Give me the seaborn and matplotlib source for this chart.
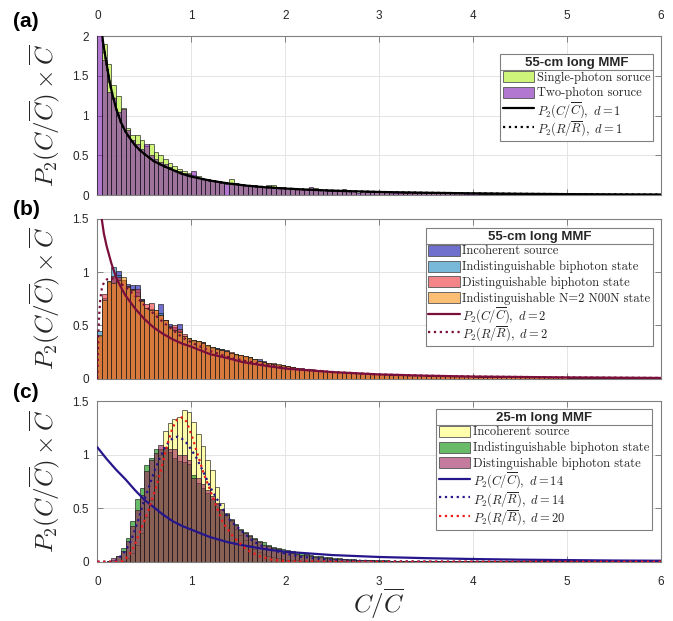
import numpy as np
import matplotlib
matplotlib.use("Agg")
import matplotlib.pyplot as plt
from matplotlib.patches import Patch, Rectangle
from matplotlib.lines import Line2D
from matplotlib.legend_handler import HandlerPatch
import seaborn as sns

sns.set_theme(style="white")
plt.rcParams["font.family"] = ["Liberation Sans", "DejaVu Sans"]
plt.rcParams["mathtext.fontset"] = "cm"

BIN_WIDTH = 0.05
X_MAX = 6.0
X_TICKS = [0, 1, 2, 3, 4, 5, 6]
X_TICK_LABELS = ["0", "1", "2", "3", "4", "5", "6"]

# ---------------- (a) 55-cm long MMF: single- vs two-photon source ----------------
a_single = [
    0.00, 1.90, 1.65, 1.39, 1.25, 1.10, 0.85, 0.76, 0.76, 0.70, 0.62, 0.64, 0.55, 0.50, 0.45, 0.40, 0.37, 0.33, 0.30, 0.28,
    0.25, 0.24, 0.20, 0.19, 0.18, 0.17, 0.16, 0.00, 0.20, 0.15, 0.14, 0.13, 0.12, 0.13, 0.11, 0.11, 0.13, 0.125, 0.09, 0.09,
    0.09, 0.08, 0.08, 0.075, 0.07, 0.08, 0.095, 0.07, 0.065, 0.06, 0.06, 0.06, 0.055, 0.05, 0.05, 0.00, 0.05, 0.045, 0.045, 0.04,
    0.04, 0.04, 0.04, 0.035, 0.035, 0.035, 0.03, 0.035, 0.03, 0.03, 0.03, 0.03, 0.028, 0.028, 0.025, 0.025, 0.025, 0.025, 0.022, 0.022,
    0.020, 0.020, 0.020, 0.020, 0.018, 0.018, 0.018, 0.017, 0.016, 0.016, 0.015, 0.015, 0.014, 0.014, 0.014, 0.013, 0.013, 0.012, 0.012, 0.012,
    0.011, 0.011, 0.011, 0.010, 0.010, 0.010, 0.010, 0.009, 0.009, 0.009, 0.009, 0.008, 0.008, 0.008, 0.008, 0.007, 0.007, 0.007, 0.007, 0.006,
]
a_two = [
    2.20, 1.70, 1.30, 1.22, 1.05, 1.08, 0.82, 0.70, 0.64, 0.58, 0.64, 0.50, 0.45, 0.42, 0.39, 0.36, 0.32, 0.30, 0.28, 0.27,
    0.31, 0.22, 0.21, 0.20, 0.19, 0.18, 0.17, 0.14, 0.15, 0.16, 0.14, 0.13, 0.13, 0.12, 0.12, 0.11, 0.12, 0.10, 0.11, 0.10,
    0.09, 0.085, 0.08, 0.08, 0.075, 0.10, 0.07, 0.07, 0.065, 0.06, 0.06, 0.06, 0.083, 0.055, 0.05, 0.03, 0.05, 0.05, 0.045, 0.055,
    0.045, 0.04, 0.04, 0.045, 0.04, 0.035, 0.04, 0.035, 0.035, 0.03, 0.035, 0.03, 0.03, 0.03, 0.028, 0.03, 0.035, 0.025, 0.025, 0.025,
    0.025, 0.022, 0.022, 0.02, 0.022, 0.02, 0.02, 0.018, 0.02, 0.018, 0.018, 0.016, 0.016, 0.015, 0.016, 0.015, 0.014, 0.014, 0.013, 0.014,
    0.013, 0.012, 0.012, 0.012, 0.011, 0.011, 0.010, 0.011, 0.010, 0.010, 0.010, 0.009, 0.009, 0.009, 0.008, 0.008, 0.008, 0.008, 0.007, 0.007,
]
a_curve_x = [0.045, 0.06, 0.08, 0.10, 0.13, 0.16, 0.20, 0.25, 0.30, 0.35, 0.40, 0.45, 0.50, 0.60, 0.70, 0.80, 0.90, 1.00,
             1.20, 1.40, 1.60, 1.80, 2.00, 2.30, 2.60, 3.00, 3.50, 4.00, 4.50, 5.00, 5.50, 6.00]
a_curve_c = [2.10, 1.93, 1.78, 1.64, 1.43, 1.27, 1.09, 0.92, 0.80, 0.71, 0.63, 0.57, 0.52, 0.43, 0.37, 0.32, 0.27, 0.235,
             0.185, 0.148, 0.12, 0.10, 0.085, 0.068, 0.055, 0.042, 0.032, 0.025, 0.019, 0.015, 0.012, 0.010]
a_curve_r = [2.10, 1.93, 1.78, 1.64, 1.43, 1.27, 1.09, 0.92, 0.80, 0.71, 0.63, 0.57, 0.52, 0.43, 0.37, 0.32, 0.27, 0.235,
             0.185, 0.148, 0.12, 0.10, 0.085, 0.068, 0.055, 0.042, 0.032, 0.025, 0.019, 0.015, 0.012, 0.010]

# ---------------- (b) 55-cm long MMF: four quantum states ----------------
b_incoherent = [
    0.40, 0.72, 0.90, 0.95, 1.01, 0.92, 0.89, 0.88, 0.88, 0.75, 0.66, 0.64, 0.62, 0.70, 0.55, 0.51, 0.48, 0.51, 0.40, 0.38,
    0.36, 0.34, 0.34, 0.31, 0.30, 0.29, 0.28, 0.27, 0.23, 0.23, 0.21, 0.20, 0.20, 0.18, 0.18, 0.17, 0.14, 0.14, 0.13, 0.13,
    0.11, 0.11, 0.10, 0.10, 0.09, 0.09, 0.08, 0.08, 0.075, 0.07, 0.065, 0.065, 0.06, 0.058, 0.055, 0.05, 0.05, 0.047, 0.046, 0.043,
    0.042, 0.041, 0.038, 0.037, 0.036, 0.035, 0.033, 0.032, 0.030, 0.030, 0.029, 0.027, 0.027, 0.026, 0.025, 0.024, 0.024, 0.022, 0.022, 0.021,
    0.020, 0.020, 0.019, 0.018, 0.018, 0.018, 0.017, 0.016, 0.016, 0.016, 0.015, 0.014, 0.014, 0.014, 0.013, 0.013, 0.013, 0.012, 0.012, 0.011,
    0.011, 0.011, 0.010, 0.010, 0.010, 0.010, 0.009, 0.009, 0.009, 0.009, 0.008, 0.008, 0.008, 0.008, 0.008, 0.007, 0.007, 0.007, 0.007, 0.007,
]
b_indist = [
    0.45, 0.76, 0.92, 1.05, 0.97, 0.93, 0.87, 0.84, 0.81, 0.75, 0.66, 0.65, 0.62, 0.62, 0.55, 0.49, 0.46, 0.45, 0.40, 0.38,
    0.36, 0.35, 0.33, 0.32, 0.30, 0.29, 0.28, 0.25, 0.24, 0.23, 0.22, 0.20, 0.20, 0.18, 0.17, 0.16, 0.15, 0.14, 0.13, 0.13,
    0.115, 0.11, 0.10, 0.095, 0.09, 0.085, 0.08, 0.078, 0.074, 0.07, 0.066, 0.063, 0.06, 0.057, 0.055, 0.052, 0.05, 0.048, 0.046, 0.044,
    0.042, 0.040, 0.039, 0.037, 0.036, 0.034, 0.033, 0.032, 0.031, 0.030, 0.029, 0.028, 0.027, 0.026, 0.025, 0.024, 0.023, 0.023, 0.022, 0.021,
    0.020, 0.020, 0.019, 0.019, 0.018, 0.018, 0.017, 0.017, 0.016, 0.016, 0.015, 0.015, 0.014, 0.014, 0.014, 0.013, 0.013, 0.012, 0.012, 0.012,
    0.011, 0.011, 0.011, 0.010, 0.010, 0.010, 0.010, 0.009, 0.009, 0.009, 0.009, 0.008, 0.008, 0.008, 0.008, 0.008, 0.007, 0.007, 0.007, 0.007,
]
b_dist = [
    0.40, 0.79, 0.91, 0.96, 0.95, 0.93, 0.87, 0.84, 0.84, 0.74, 0.70, 0.71, 0.64, 0.60, 0.55, 0.48, 0.50, 0.47, 0.42, 0.37,
    0.35, 0.35, 0.34, 0.31, 0.29, 0.28, 0.27, 0.26, 0.25, 0.22, 0.22, 0.21, 0.19, 0.18, 0.17, 0.16, 0.15, 0.145, 0.13, 0.12,
    0.115, 0.11, 0.10, 0.095, 0.09, 0.085, 0.08, 0.078, 0.074, 0.07, 0.066, 0.063, 0.06, 0.057, 0.055, 0.052, 0.05, 0.048, 0.046, 0.044,
    0.042, 0.040, 0.039, 0.037, 0.036, 0.034, 0.033, 0.032, 0.031, 0.030, 0.029, 0.028, 0.027, 0.026, 0.025, 0.024, 0.023, 0.023, 0.022, 0.021,
    0.020, 0.020, 0.019, 0.019, 0.018, 0.018, 0.017, 0.017, 0.016, 0.016, 0.015, 0.015, 0.014, 0.014, 0.014, 0.013, 0.013, 0.012, 0.012, 0.012,
    0.011, 0.011, 0.011, 0.010, 0.010, 0.010, 0.010, 0.009, 0.009, 0.009, 0.009, 0.008, 0.008, 0.008, 0.008, 0.008, 0.007, 0.007, 0.007, 0.007,
]
b_noon = [
    0.41, 0.74, 0.92, 0.90, 0.93, 0.95, 0.86, 0.83, 0.78, 0.73, 0.66, 0.64, 0.64, 0.60, 0.55, 0.48, 0.46, 0.44, 0.40, 0.38,
    0.36, 0.35, 0.33, 0.32, 0.30, 0.28, 0.27, 0.26, 0.24, 0.23, 0.22, 0.21, 0.20, 0.18, 0.17, 0.16, 0.15, 0.14, 0.135, 0.125,
    0.115, 0.11, 0.10, 0.095, 0.09, 0.085, 0.08, 0.078, 0.074, 0.07, 0.066, 0.063, 0.06, 0.057, 0.055, 0.052, 0.05, 0.048, 0.046, 0.044,
    0.042, 0.040, 0.039, 0.037, 0.036, 0.034, 0.033, 0.032, 0.031, 0.030, 0.029, 0.028, 0.027, 0.026, 0.025, 0.024, 0.023, 0.023, 0.022, 0.021,
    0.020, 0.020, 0.019, 0.019, 0.018, 0.018, 0.017, 0.017, 0.016, 0.016, 0.015, 0.015, 0.014, 0.014, 0.014, 0.013, 0.013, 0.012, 0.012, 0.012,
    0.011, 0.011, 0.011, 0.010, 0.010, 0.010, 0.010, 0.009, 0.009, 0.009, 0.009, 0.008, 0.008, 0.008, 0.008, 0.008, 0.007, 0.007, 0.007, 0.007,
]
b_curve_c_x = [0.045, 0.05, 0.07, 0.10, 0.15, 0.20, 0.25, 0.30, 0.40, 0.50, 0.60, 0.70, 0.80, 0.90, 1.00, 1.20, 1.40, 1.55,
               1.80, 2.00, 2.50, 3.00, 3.50, 4.00, 5.00, 6.00]
b_curve_c = [1.53, 1.48, 1.36, 1.24, 1.08, 0.95, 0.86, 0.78, 0.66, 0.56, 0.48, 0.42, 0.37, 0.33, 0.30, 0.23, 0.19, 0.155,
             0.12, 0.095, 0.062, 0.040, 0.028, 0.020, 0.012, 0.007]
b_curve_r_x = [0.0, 0.005, 0.01, 0.02, 0.03, 0.05, 0.075, 0.10, 0.15, 0.20, 0.30, 0.40, 0.50, 0.60, 0.70, 0.80, 0.90, 1.00,
               1.20, 1.40, 1.55, 1.80, 2.00, 2.50, 3.00, 3.50, 4.00, 5.00, 6.00]
b_curve_r = [0.0, 0.20, 0.40, 0.60, 0.73, 0.86, 0.91, 0.93, 0.945, 0.92, 0.86, 0.78, 0.69, 0.61, 0.53, 0.46, 0.39, 0.34,
             0.26, 0.20, 0.17, 0.13, 0.10, 0.063, 0.040, 0.028, 0.020, 0.012, 0.007]

# ---------------- (c) 25-m long MMF ----------------
c_incoherent = [
    0.0, 0.0, 0.0, 0.0, 0.0, 0.01, 0.03, 0.08, 0.16, 0.27, 0.42, 0.58, 0.80, 1.00, 1.22, 1.30, 1.33, 1.35, 1.42, 1.40,
    1.31, 1.19, 1.08, 0.95, 0.86, 0.70, 0.55, 0.46, 0.38, 0.31, 0.25, 0.20, 0.16, 0.12, 0.09, 0.07, 0.055, 0.04, 0.03, 0.025,
    0.02, 0.015, 0.012, 0.010, 0.008, 0.006, 0.005, 0.004, 0.003, 0.003, 0.002, 0.002, 0.002, 0.001, 0.001, 0.001, 0.001, 0.001, 0.0, 0.0,
] + [0.0] * 60
c_indist = [
    0.0, 0.0, 0.005, 0.02, 0.05, 0.13, 0.22, 0.38, 0.59, 0.69, 0.90, 0.97, 1.05, 1.05, 1.07, 1.03, 0.97, 0.94, 0.93, 0.91,
    0.81, 0.74, 0.69, 0.64, 0.59, 0.54, 0.48, 0.45, 0.40, 0.35, 0.31, 0.28, 0.25, 0.22, 0.19, 0.18, 0.16, 0.14, 0.13, 0.12,
    0.11, 0.10, 0.09, 0.08, 0.07, 0.06, 0.055, 0.05, 0.045, 0.04, 0.035, 0.03, 0.028, 0.025, 0.022, 0.02, 0.018, 0.016, 0.015, 0.014,
    0.013, 0.012, 0.011, 0.010, 0.010, 0.009, 0.009, 0.008, 0.008, 0.007, 0.007, 0.007, 0.006, 0.006, 0.006, 0.005, 0.005, 0.005, 0.005, 0.004,
    0.004, 0.004, 0.004, 0.004, 0.004, 0.004, 0.003, 0.003, 0.003, 0.003, 0.003, 0.003, 0.003, 0.003, 0.003, 0.003, 0.003, 0.003, 0.003, 0.003,
    0.003, 0.003, 0.002, 0.002, 0.002, 0.002, 0.002, 0.002, 0.002, 0.002, 0.002, 0.002, 0.002, 0.002, 0.002, 0.002, 0.002, 0.002, 0.002, 0.002,
]
c_dist = [
    0.0, 0.0, 0.01, 0.03, 0.056, 0.10, 0.19, 0.33, 0.48, 0.62, 0.85, 0.95, 1.02, 1.09, 1.06, 1.05, 1.05, 1.00, 1.00, 0.95,
    0.78, 0.78, 0.73, 0.67, 0.61, 0.55, 0.49, 0.44, 0.39, 0.34, 0.30, 0.27, 0.24, 0.21, 0.18, 0.16, 0.145, 0.13, 0.115, 0.10,
    0.09, 0.08, 0.075, 0.065, 0.06, 0.05, 0.045, 0.04, 0.036, 0.032, 0.028, 0.025, 0.022, 0.02, 0.018, 0.016, 0.015, 0.013, 0.012, 0.011,
    0.010, 0.010, 0.009, 0.009, 0.008, 0.008, 0.007, 0.007, 0.007, 0.006, 0.006, 0.006, 0.005, 0.005, 0.005, 0.005, 0.004, 0.004, 0.004, 0.004,
    0.003, 0.003, 0.003, 0.003, 0.003, 0.003, 0.003, 0.003, 0.003, 0.003, 0.003, 0.003, 0.003, 0.003, 0.003, 0.003, 0.003, 0.003, 0.003, 0.003,
    0.002, 0.002, 0.002, 0.002, 0.002, 0.002, 0.002, 0.002, 0.002, 0.002, 0.002, 0.002, 0.002, 0.002, 0.002, 0.002, 0.002, 0.002, 0.002, 0.002,
]
c_curve_c_x = [0.0, 0.1, 0.2, 0.3, 0.4, 0.5, 0.6, 0.7, 0.8, 0.9, 1.0, 1.2, 1.4, 1.6, 1.8, 2.0, 2.5, 3.0, 3.5, 4.0, 4.5, 5.0, 5.5, 6.0]
c_curve_c = [1.07, 0.96, 0.86, 0.77, 0.67, 0.58, 0.51, 0.44, 0.38, 0.335, 0.30, 0.23, 0.18, 0.145, 0.115, 0.093, 0.062, 0.044,
             0.033, 0.025, 0.019, 0.015, 0.011, 0.009]
c_curve_r14_x = [0.0, 0.15, 0.20, 0.28, 0.34, 0.39, 0.44, 0.49, 0.55, 0.60, 0.66, 0.71, 0.76, 0.81, 0.86, 0.90, 0.95, 0.99,
                 1.05, 1.10, 1.15, 1.20, 1.31, 1.41, 1.52, 1.66, 1.80, 1.98, 2.16, 2.50, 3.00, 4.00, 6.00]
c_curve_r14 = [0.0, 0.0, 0.01, 0.08, 0.16, 0.27, 0.40, 0.55, 0.70, 0.83, 0.96, 1.05, 1.12, 1.16, 1.17, 1.15, 1.11, 1.06,
               0.98, 0.89, 0.80, 0.70, 0.53, 0.39, 0.30, 0.19, 0.125, 0.08, 0.047, 0.016, 0.004, 0.0, 0.0]
c_curve_r20_x = [0.0, 0.20, 0.27, 0.33, 0.39, 0.44, 0.49, 0.54, 0.58, 0.63, 0.67, 0.71, 0.74, 0.80, 0.85, 0.90, 0.95, 1.02,
                 1.08, 1.13, 1.24, 1.34, 1.45, 1.59, 1.73, 1.87, 2.05, 2.50, 6.00]
c_curve_r20 = [0.0, 0.0, 0.005, 0.05, 0.14, 0.25, 0.36, 0.47, 0.58, 0.71, 0.83, 0.97, 1.08, 1.25, 1.33, 1.35, 1.31, 1.14,
               0.97, 0.83, 0.58, 0.36, 0.23, 0.11, 0.05, 0.016, 0.003, 0.0, 0.0]

ALPHA = 0.6
EDGE = "#1c1c1c"
LEG_FONT = 9.0


def rgba(c, a=ALPHA):
    return (c[0], c[1], c[2], a)


def draw_hist(ax, values, color, z):
    centers = (np.arange(len(values)) + 0.5) * BIN_WIDTH
    sns.histplot(x=centers, weights=values, binwidth=BIN_WIDTH, binrange=(0, X_MAX), ax=ax,
                 facecolor=rgba(color), edgecolor=EDGE, linewidth=0.45, zorder=z)


def draw_curve(ax, xs, ys, color, style):
    sns.lineplot(x=xs, y=ys, ax=ax, color=color, linewidth=1.6, linestyle=style, zorder=6)


def style_axes(ax, ymax, yticks, ylabels, top_labels=False, bottom_labels=False):
    ax.set_xlim(0, X_MAX)
    ax.set_ylim(0, ymax)
    ax.set_xticks(X_TICKS)
    ax.set_xticklabels(X_TICK_LABELS)
    ax.set_yticks(yticks)
    ax.set_yticklabels(ylabels)
    ax.grid(True, color="#e4e4e4", linewidth=0.7)
    ax.set_axisbelow(True)
    for s in ax.spines.values():
        s.set_visible(True)
        s.set_color("#808080")
        s.set_linewidth(0.8)
    ax.tick_params(axis="both", direction="in", length=4.5, width=0.7, color="#808080",
                   labelcolor="#262626", labelsize=8.5, top=True, right=True, bottom=True, left=True)
    ax.tick_params(axis="x", pad=10, labeltop=top_labels, labelbottom=bottom_labels)
    ax.tick_params(axis="y", pad=6)
    ax.set_ylabel(r"$P_2(C/\overline{C})\times\overline{C}$", fontsize=18, color="#262626")
    ax.yaxis.set_label_coords(-0.062, 0.5)
    ax.set_xlabel("")


def swatch(legend, orig_handle, xdescent, ydescent, width, height, fontsize):
    # fixed-height colour box centred in the (taller) legend row
    h = 0.88 * fontsize
    return Rectangle((-xdescent, -ydescent + (height - h) / 2.0), width, h)


def add_legend(ax, title, handles, labels, anchor):
    leg = ax.legend(handles, labels, title=title, loc="upper right", bbox_to_anchor=anchor,
                    frameon=True, fancybox=False, framealpha=1, edgecolor="#808080",
                    prop={"family": "cmr10", "size": LEG_FONT},
                    title_fontproperties={"family": "Liberation Sans", "weight": "bold", "size": 9.5},
                    handlelength=2.5, handleheight=1.6, handletextpad=0.2, labelspacing=-0.03,
                    borderpad=0.22, borderaxespad=0,
                    handler_map={Patch: HandlerPatch(patch_func=swatch)})
    leg.get_frame().set_linewidth(0.8)
    leg.set_zorder(10)
    return leg


def patch(color):
    return Patch(facecolor=rgba(color), edgecolor="#555555", linewidth=0.6)


def line(color, style):
    return Line2D([], [], color=color, linewidth=1.6, linestyle=style)


fig = plt.figure(figsize=(6.73, 6.21), dpi=100)
ax_a = fig.add_axes([0.1446, 0.6855, 0.8376, 0.2565])
ax_b = fig.add_axes([0.1446, 0.3902, 0.8376, 0.2576])
ax_c = fig.add_axes([0.1446, 0.0955, 0.8376, 0.2583])

# colours (face colours, drawn with partial opacity)
A_GREEN = (0.69, 0.93, 0.13)
A_PURPLE = (0.50, 0.12, 0.70)
B_BLUE = (0.06, 0.06, 0.68)
B_LBLUE = (0.12, 0.54, 0.75)
B_RED = (0.92, 0.20, 0.22)
B_ORANGE = (0.98, 0.58, 0.10)
B_LINE = "#7a0f3c"
C_YELLOW = (1.0, 1.0, 0.45)
C_GREEN = (0.02, 0.56, 0.02)
C_PINK = (0.62, 0.14, 0.37)
C_NAVY = "#26168c"
C_RED = "#f01a1a"

# (a)
draw_hist(ax_a, a_single, A_GREEN, 2)
draw_hist(ax_a, a_two, A_PURPLE, 3)
draw_curve(ax_a, a_curve_x, a_curve_r, "black", ":")
draw_curve(ax_a, a_curve_x, a_curve_c, "black", "-")
style_axes(ax_a, 2, [0, 0.5, 1, 1.5, 2], ["0", "0.5", "1", "1.5", "2"], top_labels=True)
leg_a = add_legend(ax_a, "55-cm long MMF",
                   [patch(A_GREEN), patch(A_PURPLE), line("black", "-"), line("black", ":")],
                   ["Single-photon soruce", "Two-photon soruce",
                    r"$P_2(C/\overline{C}),\ d=1$", r"$P_2(R/\overline{R}),\ d=1$"],
                   (0.9858, 0.887))

# (b)
draw_hist(ax_b, b_incoherent, B_BLUE, 2)
draw_hist(ax_b, b_indist, B_LBLUE, 3)
draw_hist(ax_b, b_dist, B_RED, 4)
draw_hist(ax_b, b_noon, B_ORANGE, 5)
draw_curve(ax_b, b_curve_c_x, b_curve_c, B_LINE, "-")
draw_curve(ax_b, b_curve_r_x, b_curve_r, B_LINE, ":")
style_axes(ax_b, 1.5, [0, 0.5, 1, 1.5], ["0", "0.5", "1", "1.5"])
leg_b = add_legend(ax_b, "55-cm long MMF",
                   [patch(B_BLUE), patch(B_LBLUE), patch(B_RED), patch(B_ORANGE),
                    line(B_LINE, "-"), line(B_LINE, ":")],
                   ["Incoherent source", "Indistinguishable biphoton state",
                    "Distinguishable biphoton state", "Indistinguishable N=2 N00N state",
                    r"$P_2(C/\overline{C}),\ d=2$", r"$P_2(R/\overline{R}),\ d=2$"],
                   (0.9858, 0.942))

# (c)
draw_hist(ax_c, c_incoherent, C_YELLOW, 2)
draw_hist(ax_c, c_indist, C_GREEN, 3)
draw_hist(ax_c, c_dist, C_PINK, 4)
draw_curve(ax_c, c_curve_c_x, c_curve_c, C_NAVY, "-")
draw_curve(ax_c, c_curve_r14_x, c_curve_r14, C_NAVY, ":")
draw_curve(ax_c, c_curve_r20_x, c_curve_r20, C_RED, ":")
style_axes(ax_c, 1.5, [0, 0.5, 1, 1.5], ["0", "0.5", "1", "1.5"], bottom_labels=True)
leg_c = add_legend(ax_c, "25-m long MMF",
                   [patch(C_YELLOW), patch(C_GREEN), patch(C_PINK),
                    line(C_NAVY, "-"), line(C_NAVY, ":"), line(C_RED, ":")],
                   ["Incoherent source", "Indistinguishable biphoton state",
                    "Distinguishable biphoton state",
                    r"$P_2(C/\overline{C}),\ d=14$", r"$P_2(R/\overline{R}),\ d=14$",
                    r"$P_2(R/\overline{R}),\ d=20$"],
                   (0.984, 0.952))

# shared x-axis title under the bottom panel
fig.text(0.5632, 0.027, r"$C/\overline{C}$", fontsize=18, color="#262626", ha="center", va="center")

# panel letters
for y, letter in [(0.966, "(a)"), (0.662, "(b)"), (0.368, "(c)")]:
    fig.text(0.019, y, letter, fontsize=15, fontweight="bold", va="center", ha="left", color="black")

# rule under each legend title
fig.canvas.draw()
renderer = fig.canvas.get_renderer()
inv = fig.transFigure.inverted()
for leg in (leg_a, leg_b, leg_c):
    fb = leg.get_frame().get_window_extent(renderer)
    tb = leg.get_title().get_window_extent(renderer)
    ypix = tb.y0 - 1.5
    (x0, yf), (x1, _) = inv.transform([(fb.x0, ypix), (fb.x1, ypix)])
    fig.add_artist(Line2D([x0, x1], [yf, yf], transform=fig.transFigure,
                          color="#808080", linewidth=0.8, zorder=20))

fig.savefig("out.png", dpi=100)
